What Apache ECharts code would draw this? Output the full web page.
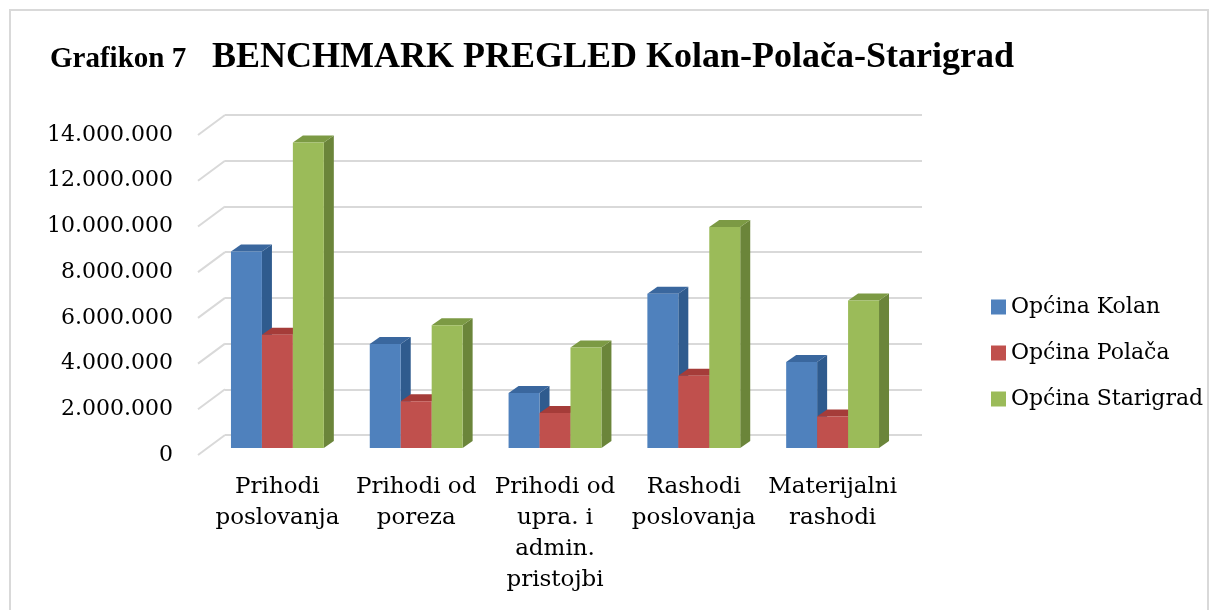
<!DOCTYPE html>
<html>
<head>
<meta charset="utf-8">
<title>Grafikon 7</title>
<script src="https://cdn.jsdelivr.net/npm/echarts@6/dist/echarts.min.js"></script>
<style>
  html, body { margin: 0; padding: 0; background: #fff; }
  #chart { width: 1211px; height: 610px; }
</style>
</head>
<body>
<div id="chart"></div>
<script>
// Podaci
const categories = [
    'Prihodi\nposlovanja',
    'Prihodi od\nporeza',
    'Prihodi od\nupra. i\nadmin.\npristojbi',
    'Rashodi\nposlovanja',
    'Materijalni\nrashodi'
];
const seriesNames = ['Općina Kolan', 'Općina Polača', 'Općina Starigrad'];
const kolan = [8600000, 4550000, 2410000, 6750000, 3760000];
const polaca = [4960000, 2040000, 1530000, 3160000, 1380000];
const starigrad = [13370000, 5370000, 4400000, 9670000, 6450000];
const yTicks = [0, 2000000, 4000000, 6000000, 8000000, 10000000, 12000000, 14000000];

// boje: prednja strana, bok, vrh
const colors = [
    { front: '#4F81BD', side: '#2F5B8E', top: '#3A679E' },
    { front: '#C0504D', side: '#8E3330', top: '#A53C39' },
    { front: '#9BBB59', side: '#6B853A', top: '#7C9A44' }
];

const DEPTH_X = 10, DEPTH_Y = -7;
const fmt = v => String(v).replace(/\B(?=(\d{3})+(?!\d))/g, '.');

const chart = echarts.init(document.getElementById('chart'));

function barSeries(name, values, k) {
    const c = colors[k];
    return {
        name: name,
        type: 'custom',
        xAxisIndex: 1,
        yAxisIndex: 1,
        itemStyle: { color: c.front },
        data: values.map((v, i) => [i, v]),
        encode: { x: 0, y: 1 },
        renderItem: function (params, api) {
            const cat = api.value(0);
            const base = api.coord([cat, 0]);
            const top = api.coord([cat, api.value(1)]);
            const w = api.size([1, 0])[0] * 0.223;
            const x0 = base[0] - 1.5 * w + k * w;
            const x1 = x0 + w;
            return {
                type: 'group',
                children: [
                    {
                        type: 'polygon',
                        shape: { points: [[x1, top[1]], [x1 + DEPTH_X, top[1] + DEPTH_Y], [x1 + DEPTH_X, base[1] + DEPTH_Y], [x1, base[1]]] },
                        style: { fill: c.side }
                    },
                    {
                        type: 'polygon',
                        shape: { points: [[x0, top[1]], [x0 + DEPTH_X, top[1] + DEPTH_Y], [x1 + DEPTH_X, top[1] + DEPTH_Y], [x1, top[1]]] },
                        style: { fill: c.top }
                    },
                    {
                        type: 'rect',
                        shape: { x: x0, y: top[1], width: w, height: base[1] - top[1] },
                        style: { fill: c.front }
                    }
                ]
            };
        }
    };
}

const option = {
    backgroundColor: '#fff',
    animation: false,
    graphic: [
        {
            type: 'rect',
            shape: { x: 10, y: 10, width: 1198, height: 640 },
            style: { fill: 'none', stroke: '#D9D9D9', lineWidth: 2 },
            silent: true
        },
        {
            type: 'text',
            style: {
                x: 50, y: 60, text: 'Grafikon 7', verticalAlign: 'middle',
                fontFamily: 'Liberation Serif', fontWeight: 'bold', fontSize: 29, fill: '#000'
            }
        },
        {
            type: 'text',
            style: {
                x: 212, y: 58, text: 'BENCHMARK PREGLED Kolan-Polača-Starigrad', verticalAlign: 'middle',
                fontFamily: 'Liberation Serif', fontWeight: 'bold', fontSize: 36, fill: '#000'
            }
        }
    ],
    legend: {
        orient: 'vertical',
        left: 986,
        top: 291,
        itemWidth: 15,
        itemHeight: 15,
        itemGap: 24,
        icon: 'rect',
        data: seriesNames,
        textStyle: { fontFamily: 'DejaVu Serif', fontSize: 22, lineHeight: 22, color: '#000' }
    },
    grid: [
        // zadnji zid s linijama mreže
        { left: 225, right: 289, top: 115, height: 320 },
        // stupci
        { left: 208, right: 309, top: 128, height: 320 },
        // oznake osi Y na prednjoj strani
        { left: 198, right: 309, top: 135, height: 320 }
    ],
    xAxis: [
        { gridIndex: 0, type: 'value', min: 0, max: 1, show: false },
        {
            gridIndex: 1, type: 'category', data: categories,
            axisLine: { show: false }, axisTick: { show: false },
            axisLabel: {
                interval: 0, margin: 24, color: '#000',
                fontFamily: 'DejaVu Serif', fontSize: 23, lineHeight: 31
            }
        },
        { gridIndex: 2, type: 'value', min: 0, max: 1, show: false }
    ],
    yAxis: [
        {
            gridIndex: 0, type: 'value', min: 0, max: 14000000, interval: 2000000,
            axisLine: { show: false }, axisTick: { show: false }, axisLabel: { show: false },
            splitLine: { show: true, lineStyle: { color: '#D9D9D9', width: 2 } }
        },
        {
            gridIndex: 1, type: 'value', min: 0, max: 14000000, interval: 2000000,
            show: false, splitLine: { show: false }
        },
        {
            gridIndex: 2, type: 'value', min: 0, max: 14000000, interval: 2000000,
            axisLine: { show: false }, axisTick: { show: false },
            splitLine: { show: false },
            axisLabel: {
                margin: 25, color: '#000', fontFamily: 'DejaVu Serif', fontSize: 22,
                formatter: fmt
            }
        }
    ],
    series: [
        {
            name: 'dijagonale',
            type: 'custom',
            xAxisIndex: 0,
            yAxisIndex: 0,
            silent: true,
            data: yTicks.map(v => [0, v]),
            encode: { x: 0, y: 1 },
            renderItem: function (params, api) {
                const p = api.coord([0, api.value(1)]);
                return {
                    type: 'line',
                    shape: { x1: p[0], y1: p[1], x2: p[0] - 27, y2: p[1] + 20 },
                    style: { stroke: '#D9D9D9', lineWidth: 2 }
                };
            }
        },
        barSeries(seriesNames[0], kolan, 0),
        barSeries(seriesNames[1], polaca, 1),
        barSeries(seriesNames[2], starigrad, 2)
    ]
};

chart.setOption(option);
window.addEventListener('resize', () => chart.resize());
</script>
</body>
</html>
